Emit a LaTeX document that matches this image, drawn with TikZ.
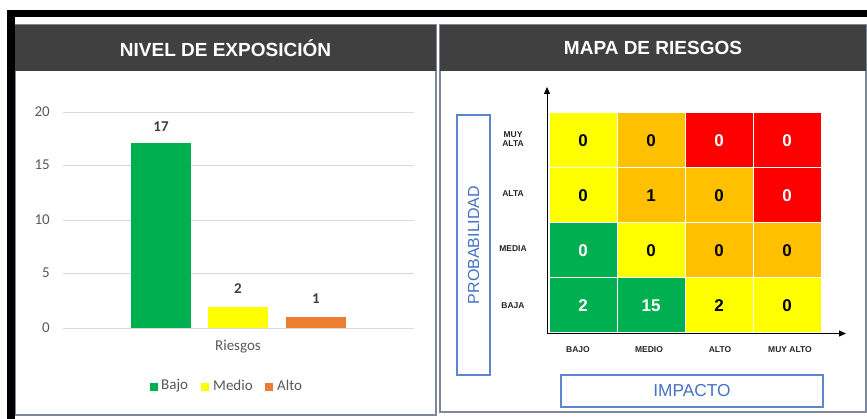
\documentclass[tikz,border=0pt]{standalone}
\usepackage{fontspec}
\setmainfont{Liberation Sans}
\newfontfamily\calibri{Carlito}
\usetikzlibrary{arrows.meta}
\definecolor{hdr}{HTML}{404040}
\definecolor{pborder}{HTML}{7F8898}
\definecolor{grid}{HTML}{D9D9D9}
\definecolor{axtxt}{HTML}{595959}
\definecolor{cgreen}{HTML}{00B050}
\definecolor{cyellow}{HTML}{FFFF00}
\definecolor{corange}{HTML}{FFC000}
\definecolor{cred}{HTML}{FF0000}
\definecolor{barorange}{HTML}{ED7D31}
\definecolor{cblue}{HTML}{5B86D0}
\definecolor{cbluetxt}{HTML}{4472C4}
\tikzset{
  panel/.style={draw=pborder, line width=1.4pt},
  hdrbox/.style={fill=hdr, text=white, font=\fontsize{19}{22}\selectfont\bfseries, inner sep=0pt},
  gridline/.style={draw=grid, line width=0.9pt},
  ticklab/.style={font=\calibri\fontsize{15}{17}\selectfont, text=axtxt, anchor=east, inner sep=0pt},
  datalab/.style={font=\calibri\fontsize{15}{17}\selectfont\bfseries, text=black!75, inner sep=0pt},
  legtxt/.style={font=\calibri\fontsize{15}{17}\selectfont, text=axtxt, anchor=west, inner sep=0pt},
  legsq/.style={minimum width=8pt, minimum height=8pt, inner sep=0pt},
  cell/.style={draw=white, line width=1pt, minimum width=68pt, minimum height=55pt, inner sep=0pt,
    font=\fontsize{17}{20}\selectfont\bfseries},
  rowlab/.style={font=\fontsize{8.5}{9.5}\selectfont\bfseries, align=center, text=black!85, inner sep=0pt},
  collab/.style={font=\fontsize{8.5}{9.5}\selectfont\bfseries, text=black!85, inner sep=0pt},
  bluebox/.style={draw=cblue, line width=1.2pt, inner sep=0pt, text=cbluetxt, font=\fontsize{17.3}{20}\selectfont},
  axisarrow/.style={draw=black, line width=1pt, -{Triangle[length=7pt,width=6pt]}}
}
\begin{document}
\begin{tikzpicture}[x=1pt,y=-1pt]
\useasboundingbox (0,0) rectangle (867,419);
\fill[white] (0,0) rectangle (867,419);
% panels
\draw[panel] (15,25) rectangle (436,415);
\draw[panel] (440,25) rectangle (866,412);
% black frame
\fill[black] (7,10) rectangle (867,17);
\fill[black] (7,10) rectangle (15,419);
% headers
\node[hdrbox, minimum width=421pt, minimum height=46pt] (h1) at (225.5,48) {NIVEL DE EXPOSICIÓN};
\node[hdrbox, minimum width=426pt, minimum height=46pt] (h2) at (653,48) {MAPA DE RIESGOS};

% ---- bar chart ----
\foreach \v/\yy in {0/328,5/273,10/220,15/165,20/112}{
  \draw[gridline] (63,\yy) -- (414,\yy);
  \node[ticklab] (t\v) at (50,\yy) {\v};
}
\fill[cgreen] (131,143.5) rectangle (191,328);
\fill[cyellow] (208,307) rectangle (268,328);
\fill[barorange] (286,317) rectangle (346,328);
\draw[gridline] (63,328) -- (414,328);
\node[datalab] (l17) at (161,127) {17};
\node[datalab] (l2) at (238,289) {2};
\node[datalab] (l1) at (316,299) {1};
\node[font=\calibri\fontsize{15}{17}\selectfont, text=axtxt, inner sep=0pt] (riesgos) at (238,347) {Riesgos};
\node[legsq, fill=cgreen] (sq1) at (154,386.5) {};
\node[legtxt] (lb1) at (161,385.5) {Bajo};
\node[legsq, fill=cyellow] (sq2) at (205,386.5) {};
\node[legtxt] (lb2) at (213,385.5) {Medio};
\node[legsq, fill=barorange] (sq3) at (269,386.5) {};
\node[legtxt] (lb3) at (277,385.5) {Alto};

% ---- risk matrix ----
\node[cell, fill=cyellow, text=black] (c11) at (583,140.5) {0};
\node[cell, fill=corange, text=black] (c12) at (651,140.5) {0};
\node[cell, fill=cred, text=white] (c13) at (719,140.5) {0};
\node[cell, fill=cred, text=white] (c14) at (787,140.5) {0};
\node[cell, fill=cyellow, text=black] (c21) at (583,195.5) {0};
\node[cell, fill=corange, text=black] (c22) at (651,195.5) {1};
\node[cell, fill=corange, text=black] (c23) at (719,195.5) {0};
\node[cell, fill=cred, text=white] (c24) at (787,195.5) {0};
\node[cell, fill=cgreen, text=white] (c31) at (583,250.5) {0};
\node[cell, fill=cyellow, text=black] (c32) at (651,250.5) {0};
\node[cell, fill=corange, text=black] (c33) at (719,250.5) {0};
\node[cell, fill=corange, text=black] (c34) at (787,250.5) {0};
\node[cell, fill=cgreen, text=white] (c41) at (583,305.5) {2};
\node[cell, fill=cgreen, text=white] (c42) at (651,305.5) {15};
\node[cell, fill=cyellow, text=black] (c43) at (719,305.5) {2};
\node[cell, fill=cyellow, text=black] (c44) at (787,305.5) {0};
% axes
\coordinate (origin) at (547,333.5);
\coordinate (ytip) at (547,87);
\coordinate (xtip) at (846,333.5);
\draw[axisarrow] (origin) -- (ytip);
\draw[axisarrow] (origin) -- (xtip);
% row labels
\node[rowlab] (r1) at (513,139) {MUY\\ALTA};
\node[rowlab] (r2) at (513,194) {ALTA};
\node[rowlab] (r3) at (513,249) {MEDIA};
\node[rowlab] (r4) at (513,306) {BAJA};
% column labels
\node[collab] (k1) at (578,350) {BAJO};
\node[collab] (k2) at (649,350) {MEDIO};
\node[collab] (k3) at (720,350) {ALTO};
\node[collab] (k4) at (790,350) {MUY ALTO};
% axis title boxes
\node[bluebox, minimum width=33pt, minimum height=260pt] (prob) at (473.5,245) {};
\node[text=cbluetxt, font=\fontsize{16}{18}\selectfont, rotate=90, inner sep=0pt] (probt) at (prob.center) {PROBABILIDAD};
\node[bluebox, minimum width=262pt, minimum height=32pt] (imp) at (692,391) {IMPACTO};
\end{tikzpicture}
\end{document}
